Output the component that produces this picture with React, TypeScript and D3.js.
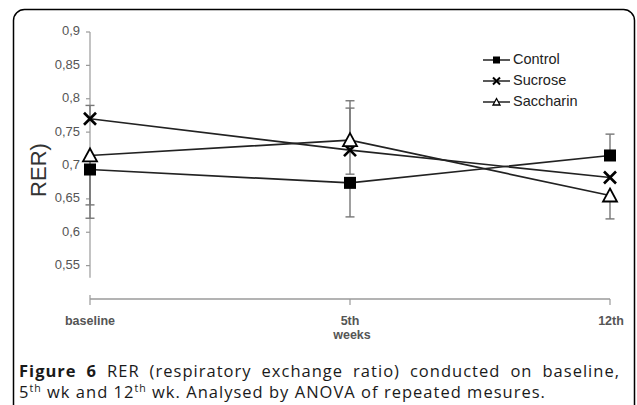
import React, { useLayoutEffect, useRef, useState } from "react";
import * as d3 from "d3";

const categories = ["baseline", "5th", "12th"];
const yTicks = [0.55, 0.6, 0.65, 0.7, 0.75, 0.8, 0.85, 0.9];

const control = [0.694, 0.674, 0.715];
const sucrose = [0.77, 0.723, 0.682];
const saccharin = [0.715, 0.738, 0.655];

const controlErrLow: (number | null)[] = [0.621, 0.623, null];
const controlErrHigh: (number | null)[] = [null, null, 0.747];
const sucroseErrLow: (number | null)[] = [null, null, null];
const sucroseErrHigh: (number | null)[] = [0.79, 0.797, null];
const saccharinErrLow: (number | null)[] = [0.641, 0.687, 0.62];
const saccharinErrHigh: (number | null)[] = [null, 0.786, null];

const seriesNames = ["Control", "Sucrose", "Saccharin"];

const W = 637;
const H = 405;
const CAP_FS = 16.5;

export default function App() {
  const x = d3.scalePoint<string>().domain(categories).range([90, 610]);
  const y = d3.scaleLinear().domain([0.5, 0.9]).range([299, 32]);

  const series = [
    { name: seriesNames[0], values: control, lo: controlErrLow, hi: controlErrHigh, marker: "square" },
    { name: seriesNames[1], values: sucrose, lo: sucroseErrLow, hi: sucroseErrHigh, marker: "x" },
    { name: seriesNames[2], values: saccharin, lo: saccharinErrLow, hi: saccharinErrHigh, marker: "triangle" },
  ];

  const line = d3
    .line<number>()
    .x((_, i) => x(categories[i]) as number)
    .y((d) => y(d));

  const line1Ref = useRef<SVGTextElement>(null);
  const line2Ref = useRef<SVGTextElement>(null);
  const [cap, setCap] = useState({ ls: 0, ws: 0, done: false });
  useLayoutEffect(() => {
    if (cap.done) return;
    if (line1Ref.current && line2Ref.current) {
      const w1 = line1Ref.current.getComputedTextLength();
      const w2 = line2Ref.current.getComputedTextLength();
      const n2 = (line2Ref.current.textContent || "").length;
      const n1 = (line1Ref.current.textContent || "").length;
      const ls = (527 - w2) / n2;
      const w1n = w1 + ls * n1;
      const ws = (601 - w1n) / 8;
      setCap({ ls, ws, done: true });
    }
  }, [cap.done]);

  const marker = (type: string, cx: number, cy: number, s: number, key?: string) => {
    if (type === "square") {
      return <rect key={key} x={cx - s / 2} y={cy - s / 2} width={s} height={s} fill="#000" />;
    }
    if (type === "x") {
      const h = s / 2;
      return (
        <g key={key} stroke="#000" strokeWidth={s > 8 ? 2.6 : 2}>
          <line x1={cx - h} y1={cy - h} x2={cx + h} y2={cy + h} />
          <line x1={cx - h} y1={cy + h} x2={cx + h} y2={cy - h} />
        </g>
      );
    }
    const h = s / 2;
    const pts = `${cx},${cy - h} ${cx + h},${cy + h * 0.85} ${cx - h},${cy + h * 0.85}`;
    return <polygon key={key} points={pts} fill="#fff" stroke="#000" strokeWidth={s > 8 ? 1.8 : 1.3} />;
  };

  const axisColor = "#9a9a9a";
  const supFs = CAP_FS * 0.64;

  return (
    <svg width={W} height={H} style={{ position: "absolute", left: 0, top: 0 }}>
      <rect x={0} y={0} width={W} height={H} fill="#fff" />
      {/* frame */}
      <rect x={13.5} y={9.5} width={621} height={430} rx={11} fill="#fff" stroke="#000" strokeWidth={1.5} />

      {/* y axis */}
      <line x1={90} x2={90} y1={y(0.9)} y2={y(0.532)} stroke={axisColor} strokeWidth={1.2} />
      {yTicks.map((t) => (
        <g key={t}>
          <line x1={86} x2={90} y1={y(t)} y2={y(t)} stroke={axisColor} strokeWidth={1.2} />
          <text
            x={80}
            y={y(t)}
            textAnchor="end"
            dominantBaseline="middle"
            fontFamily="Liberation Sans, Arial, sans-serif"
            fontSize={13}
            fill="#555"
          >
            {d3.format(".2~f")(t).replace(".", ",")}
          </text>
        </g>
      ))}
      <text
        transform={`translate(40,170) rotate(-90)`}
        textAnchor="middle"
        dominantBaseline="middle"
        fontFamily="Liberation Sans, Arial, sans-serif"
        fontSize={22}
        fill="#333"
      >
        RER)
      </text>

      {/* x axis */}
      <line x1={90} x2={610} y1={299} y2={299} stroke={axisColor} strokeWidth={1.5} />
      {categories.map((c) => (
        <line key={c} x1={x(c)} x2={x(c)} y1={c === "baseline" ? 295 : 299} y2={305} stroke={axisColor} strokeWidth={1.2} />
      ))}
      {categories.map((c, i) => (
        <text
          key={c}
          x={(x(c) as number) + (i === 2 ? 1 : 0)}
          y={322}
          textAnchor="middle"
          dominantBaseline="middle"
          fontFamily="Liberation Sans, Arial, sans-serif"
          fontSize={12.5}
          fontWeight="bold"
          fill="#555"
        >
          {c}
        </text>
      ))}
      <text
        x={352}
        y={336}
        textAnchor="middle"
        dominantBaseline="middle"
        fontFamily="Liberation Sans, Arial, sans-serif"
        fontSize={12.5}
        fontWeight="bold"
        fill="#555"
      >
        weeks
      </text>

      {/* error bars */}
      {series.map((s) =>
        s.values.map((v, i) => {
          const cx = x(categories[i]) as number;
          const els: React.ReactNode[] = [];
          const lo = s.lo[i];
          const hi = s.hi[i];
          if (lo != null) {
            els.push(
              <g key={`lo${i}`} stroke="#777" strokeWidth={1.4}>
                <line x1={cx} x2={cx} y1={y(v)} y2={y(lo)} />
                <line x1={cx - 4.5} x2={cx + 4.5} y1={y(lo)} y2={y(lo)} />
              </g>
            );
          }
          if (hi != null) {
            els.push(
              <g key={`hi${i}`} stroke="#777" strokeWidth={1.4}>
                <line x1={cx} x2={cx} y1={y(v)} y2={y(hi)} />
                <line x1={cx - 4.5} x2={cx + 4.5} y1={y(hi)} y2={y(hi)} />
              </g>
            );
          }
          return <g key={`${s.name}${i}`}>{els}</g>;
        })
      )}

      {/* lines */}
      {series.map((s) => (
        <path key={s.name} d={line(s.values) as string} fill="none" stroke="#222" strokeWidth={1.7} />
      ))}
      {/* markers */}
      {series.map((s) =>
        s.values.map((v, i) => marker(s.marker, x(categories[i]) as number, y(v), s.marker === "triangle" ? 14 : 12, `${s.name}m${i}`))
      )}

      {/* legend */}
      {series.map((s, i) => {
        const ly = 60 + i * 21;
        return (
          <g key={s.name}>
            <line x1={483} x2={510} y1={ly} y2={ly} stroke="#222" strokeWidth={1.5} />
            {marker(s.marker, 496.5, ly, 7)}
            <text
              x={513}
              y={ly}
              dominantBaseline="middle"
              fontFamily="Liberation Sans, Arial, sans-serif"
              fontSize={14.5}
              fill="#222"
            >
              {s.name}
            </text>
          </g>
        );
      })}

      {/* caption */}
      <text
        ref={line1Ref}
        x={19}
        y={377}
        fontFamily="Open Sans, Noto Sans, sans-serif"
        fontSize={CAP_FS}
        fill="#1a1a1a"
        style={{ wordSpacing: `${cap.ws}px`, letterSpacing: `${cap.ls}px` }}
      >
        <tspan fontWeight="bold">Figure 6</tspan> RER (respiratory exchange ratio) conducted on baseline,
      </text>
      <text
        ref={line2Ref}
        x={19}
        y={398}
        fontFamily="Open Sans, Noto Sans, sans-serif"
        fontSize={CAP_FS}
        fill="#1a1a1a"
        style={{ letterSpacing: `${cap.ls}px` }}
      >
        5<tspan fontSize={supFs} dy={-CAP_FS * 0.38}>th</tspan>
        <tspan dy={CAP_FS * 0.38}> wk and 12</tspan>
        <tspan fontSize={supFs} dy={-CAP_FS * 0.38}>th</tspan>
        <tspan dy={CAP_FS * 0.38}> wk. Analysed by ANOVA of repeated mesures.</tspan>
      </text>
    </svg>
  );
}
